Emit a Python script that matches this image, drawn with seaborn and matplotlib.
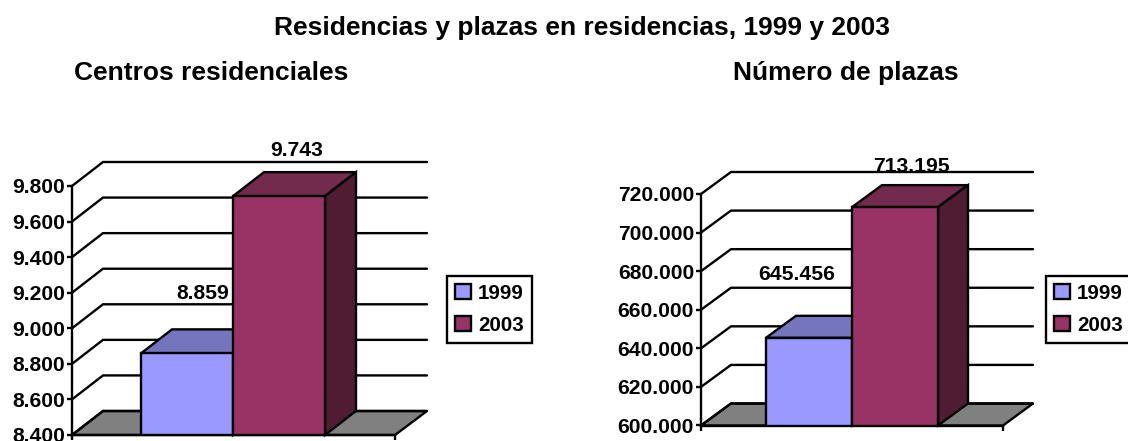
import pandas as pd
import matplotlib.pyplot as plt
from matplotlib.patches import Polygon
import seaborn as sns

W, H = 1128, 441

# data
anios = ['1999', '2003']
centros = [8859, 9743]
plazas = [645456, 713195]
ticks_centros = [8400, 8600, 8800, 9000, 9200, 9400, 9600, 9800]
ticks_plazas = [600000, 620000, 640000, 660000, 680000, 700000, 720000]

colores = {'1999': '#9999FF', '2003': '#993366'}
techo = {'1999': '#7575BD', '2003': '#722A4D'}
lado = {'1999': '#4C4C80', '2003': '#4F1C34'}

sns.set_theme(style='white')
plt.rcParams['font.family'] = ['Liberation Sans']
plt.rcParams['font.weight'] = 'bold'
FS = 15.2
LW = 1.7

fig = plt.figure(figsize=(W / 100, H / 100), dpi=100)


def fmt(v):
    return f'{v:,}'.replace(',', '.')


def panel(valores, ticks, x0, x_front, x_back, bar_l, bar_w, y_base, y_top_tick, dx, dy,
          leg_x, etiquetas):
    # y_top of the axes is the back line of the top gridline
    y_top = y_top_tick - dy
    ax = fig.add_axes([x0 / W, 1 - y_base / H, (x_back - x0) / W, (y_base - y_top) / H])
    df = pd.DataFrame({'grupo': [''] * 2, 'anio': anios, 'valor': valores})
    sns.barplot(data=df, x='grupo', y='valor', hue='anio', palette=colores, width=0.8,
                gap=0, ax=ax, edgecolor='black', linewidth=LW, zorder=5, errorbar=None,
                saturation=1)
    barras = [c[0] for c in ax.containers]

    # scales
    ppu = bar_w / 0.4
    ax.set_xlim((x0 - (bar_l + bar_w)) / ppu, (x_back - (bar_l + bar_w)) / ppu)
    v0, v1 = ticks[0], ticks[-1]
    vpp = (v1 - v0) / (y_base - y_top_tick)
    ax.set_ylim(v0, v0 + (y_base - y_top) * vpp)
    ddx, ddy = dx / ppu, dy * vpp
    xa = ax.get_xlim()[0]
    xf = xa + (x_front - x0) / ppu
    xb = ax.get_xlim()[1]

    # floor and walls
    ax.add_patch(Polygon([(xa, v0), (xa + ddx, v0 + ddy), (xb, v0 + ddy), (xf, v0)],
                         fc='#808080', ec='black', lw=LW, zorder=1, clip_on=False))
    for t in ticks:
        ax.plot([xa, xa + ddx, xb], [t, t + ddy, t + ddy], color='black', lw=LW, zorder=2,
                clip_on=False, solid_joinstyle='miter')

    # 3d faces of the bars
    for p, a, et in zip(barras, anios, etiquetas):
        l, w, top = p.get_x(), p.get_width(), p.get_height()
        ax.add_patch(Polygon([(l, top), (l + ddx, top + ddy), (l + w + ddx, top + ddy), (l + w, top)],
                             fc=techo[a], ec='black', lw=LW, zorder=4, clip_on=False))
        ax.add_patch(Polygon([(l + w, v0), (l + w + ddx, v0 + ddy), (l + w + ddx, top + ddy), (l + w, top)],
                             fc=lado[a], ec='black', lw=LW, zorder=4, clip_on=False))
        ax.annotate(fmt(int(top)), (l + w / 2, top), xytext=(et[0] * 0.72, et[1] * 0.72),
                    textcoords='offset points', ha='center', va='center',
                    fontsize=FS, fontweight='bold', color='black', zorder=6,
                    annotation_clip=False)

    ax.patch.set_alpha(0)
    ax.set_xlabel('')
    ax.set_ylabel('')
    ax.set_yticks(ticks)
    ax.set_yticklabels([fmt(t) for t in ticks], fontsize=FS, fontweight='bold', color='black')
    ax.tick_params(axis='y', left=True, length=3.5, width=LW, color='black', pad=1.5)
    ax.set_xticks([xa, xf])
    ax.set_xticklabels(['', ''])
    ax.tick_params(axis='x', bottom=True, length=3.5, width=LW, color='black')
    for s in ['top', 'right']:
        ax.spines[s].set_visible(False)
    for s in ['left', 'bottom']:
        ax.spines[s].set_color('black')
        ax.spines[s].set_linewidth(LW)
        ax.spines[s].set_zorder(7)
    ax.spines['left'].set_bounds(v0, v1)
    ax.spines['bottom'].set_bounds(xa, xf)

    handles, labels = ax.get_legend_handles_labels()
    ax.legend(handles, labels, loc='lower left', bbox_to_anchor=(leg_x / W, 1 - 343 / H),
              bbox_transform=fig.transFigure, frameon=True, fancybox=False, framealpha=1,
              edgecolor='black', borderaxespad=0, borderpad=0.4, labelspacing=0.62,
              handlelength=0.75, handleheight=0.75, handletextpad=0.35, labelcolor='black',
              prop={'size': 14.8, 'weight': 'bold'}).get_frame().set_linewidth(LW)


panel(centros, ticks_centros, 72, 395, 427, 141, 92, 435, 186, 31, 24, 447,
      [(16, 60), (18, 45.5)])
panel(plazas, ticks_plazas, 701, 1003, 1033, 766, 86, 425.5, 194, 30, 22, 1046,
      [(-12, 63), (16, 41)])

fig.text(582 / W, 1 - 28 / H, 'Residencias y plazas en residencias, 1999 y 2003',
         ha='center', va='center', fontsize=19, fontweight='bold', color='black')
fig.text(211 / W, 1 - 73 / H, 'Centros residenciales', ha='center', va='center',
         fontsize=19, fontweight='bold', color='black')
fig.text(846 / W, 1 - 73 / H, 'Número de plazas', ha='center', va='center',
         fontsize=19, fontweight='bold', color='black')

fig.savefig('out.png', dpi=100, facecolor='white')
